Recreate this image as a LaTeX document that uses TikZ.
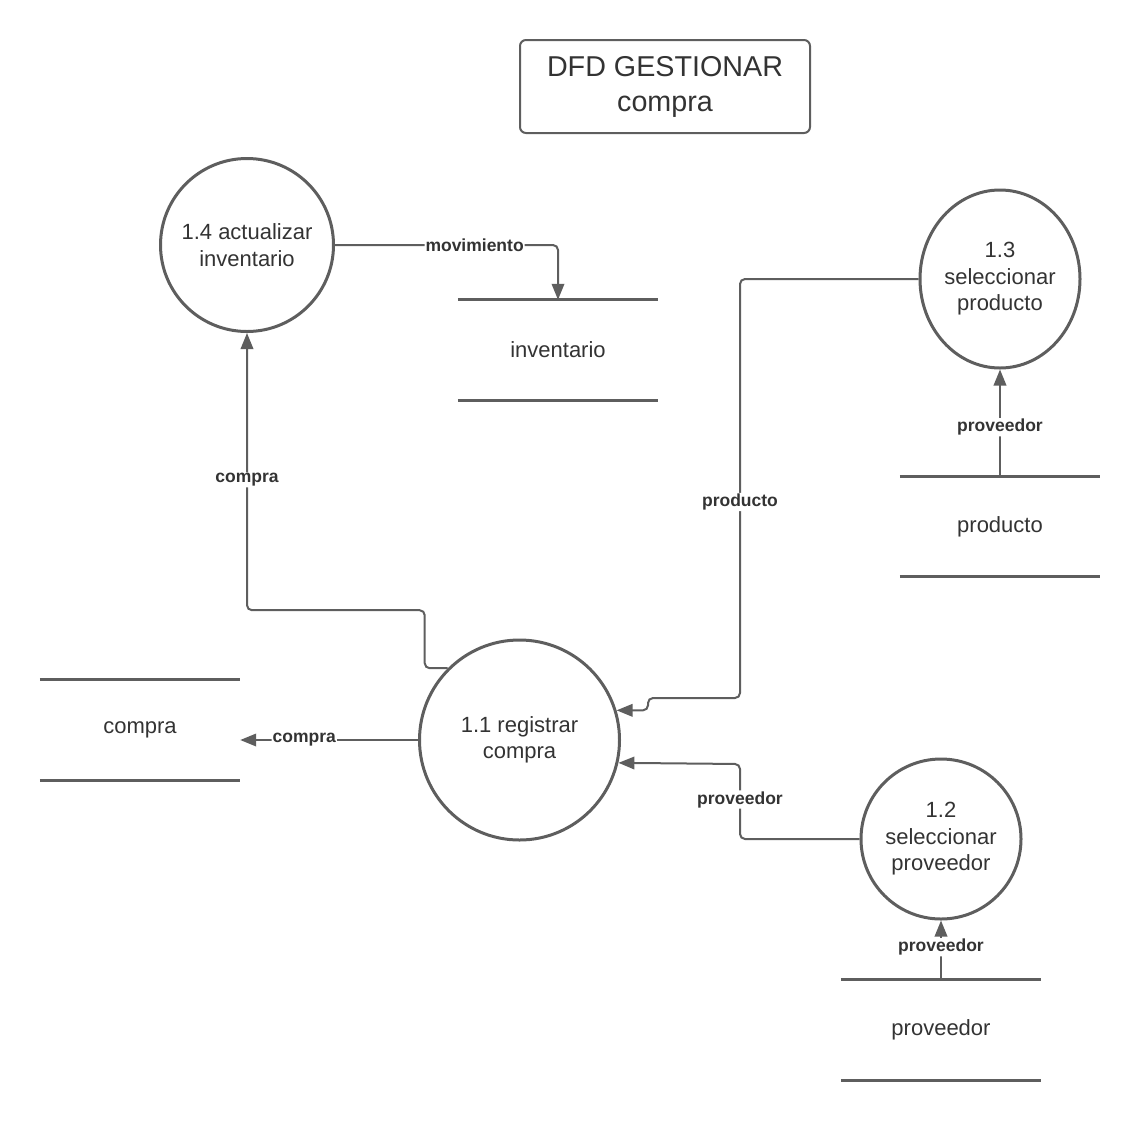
\documentclass[tikz,border=0pt]{standalone}
\usepackage{fontspec}
\setmainfont{Liberation Sans}
\usetikzlibrary{arrows.meta,shapes.geometric}
\definecolor{ln}{HTML}{5E5E5E}
\definecolor{tx}{HTML}{333333}
\begin{document}
\begin{tikzpicture}[x=1pt,y=-1pt,
  proc/.style={circle,draw=ln,line width=3pt,text=tx,align=center,inner sep=0pt,
    font=\fontsize{22}{26.5}\selectfont},
  procell/.style={ellipse,draw=ln,line width=3pt,text=tx,align=center,inner sep=0pt,
    font=\fontsize{22}{26.5}\selectfont},
  store/.style={minimum width=200pt,minimum height=100pt,inner sep=0pt,text=tx,
    font=\fontsize{22}{26.5}\selectfont},
  storeline/.style={draw=ln,line width=3pt},
  flow/.style={draw=ln,line width=2pt,rounded corners=5pt,-{Triangle[length=16pt,width=12.5pt]}},
  lbl/.style={fill=white,text=tx,inner sep=1pt,font=\bfseries\fontsize{17.5}{20}\selectfont},
  titlebox/.style={draw=ln,line width=2pt,rounded corners=6pt,minimum width=290pt,minimum height=93pt,
    text=tx,align=center,inner sep=0pt,font=\fontsize{28.7}{35}\selectfont}
]
\useasboundingbox (0,0) rectangle (1140,1120);

% title
\node[titlebox] (title) at (665,86.5) {DFD GESTIONAR\\compra};

% processes
\node[proc,minimum size=173pt] (p14) at (247,245) {1.4 actualizar\\inventario};
\node[procell,minimum width=160pt,minimum height=178pt] (p13) at (1000,279) {1.3\\seleccionar\\producto};
\node[proc,minimum size=200pt] (p11) at (519.5,740) {1.1 registrar\\compra};
\node[proc,minimum size=160pt] (p12) at (941,839) {1.2\\seleccionar\\proveedor};

% stores
\node[store] (sinv) at (558,350) {inventario};
\node[store] (sprod) at (1000,526.5) {producto};
\node[store] (scom) at (140,730) {compra};
\node[store] (sprov) at (941,1030) {proveedor};
\foreach \s in {sinv,sprod,scom,sprov}{
  \draw[storeline] (\s.north west) -- (\s.north east);
  \draw[storeline] (\s.south west) -- (\s.south east);
}

% flows
\draw[flow] (p14.east) -| node[lbl,pos=0.313]{movimiento} (sinv.north);
\draw[flow] (p11.135) -- ++(-23,0) -- ++(0,-58) -| node[lbl,pos=0.735]{compra} (p14.south);
\draw[flow] (p13.west) -| node[lbl,pos=0.766]{producto} (740,698) -- (648,698) |- (p11.17);
\draw[flow] (p12.west) -| node[lbl,pos=0.763]{proveedor} (740,764) -- (p11.-13);
\draw[flow] (p11.west) -- node[lbl,pos=0.64]{compra} (p11.west -| scom.east);
\draw[flow] (sprod.north) -- node[lbl,pos=0.46]{proveedor} (p13.south);
\draw[flow] (sprov.north) -- node[lbl,pos=0.55]{proveedor} (p12.south);
\end{tikzpicture}
\end{document}
